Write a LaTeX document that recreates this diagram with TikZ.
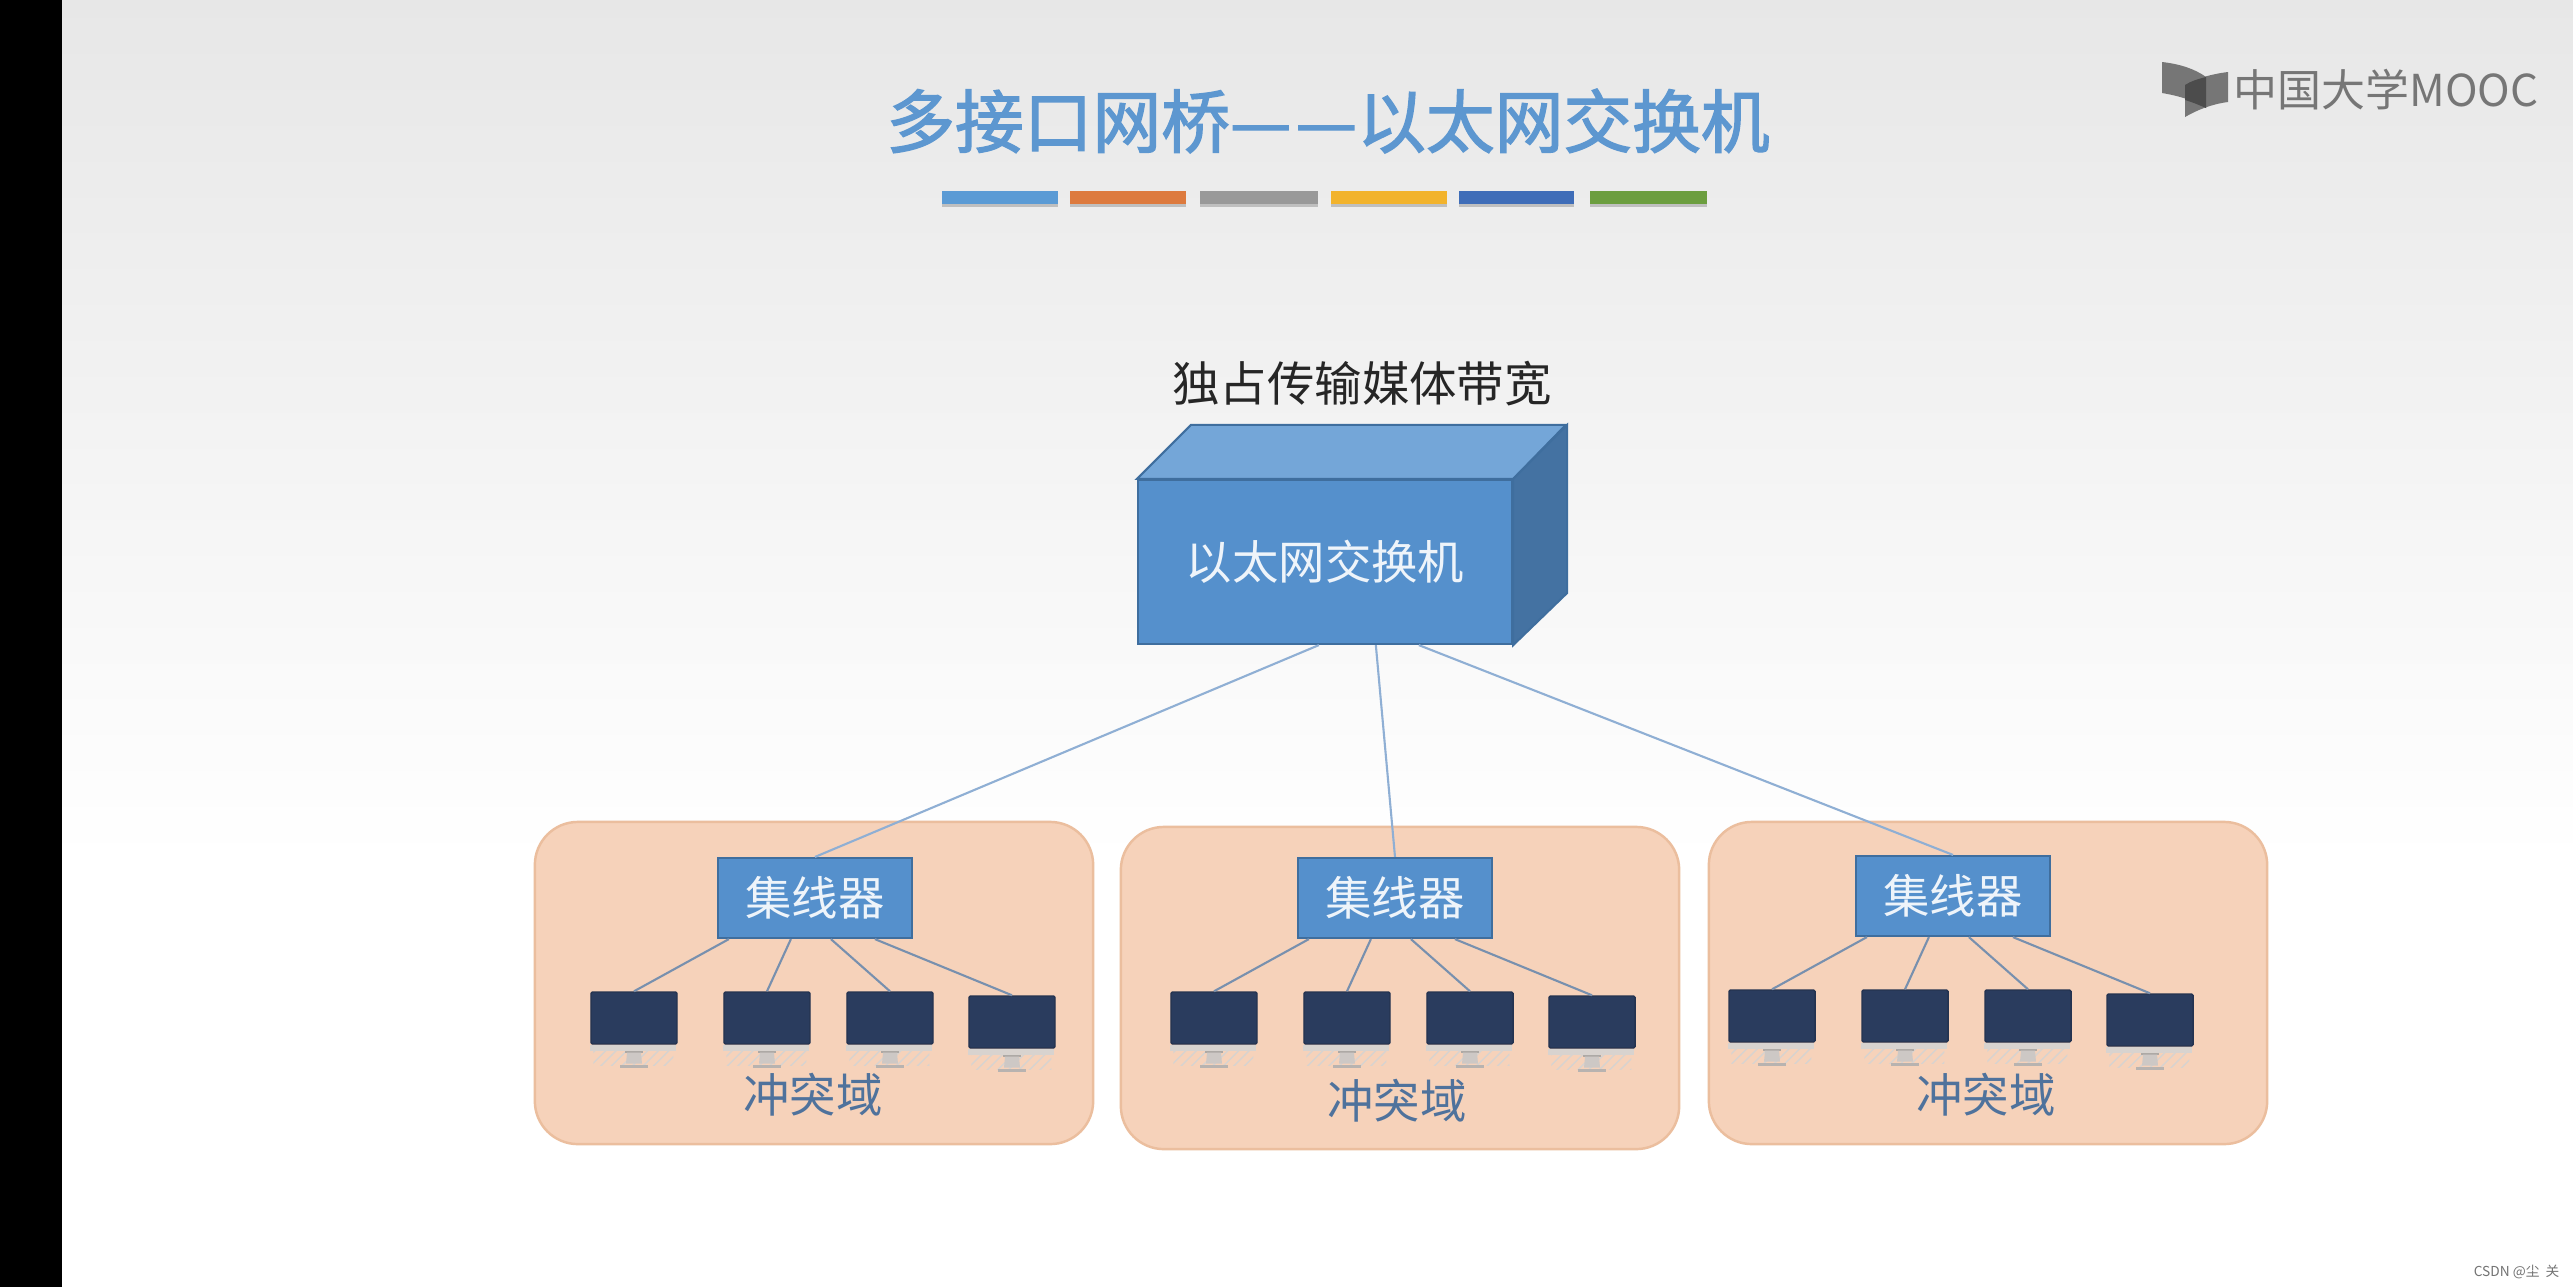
\documentclass[tikz,border=0pt]{standalone}
\usepackage{xcolor}
\usepackage{fontspec}
\usepackage{tikz}
\usetikzlibrary{positioning,patterns}
\newfontfamily\cjk{Noto Sans CJK SC}
\newfontfamily\cjktitle[FakeBold=2]{Noto Sans CJK SC}
\definecolor{slidegray}{HTML}{E7E7E7}
\definecolor{slideblue}{HTML}{5D97D0}
\definecolor{swfront}{HTML}{5590CC}
\definecolor{swtop}{HTML}{74A6D8}
\definecolor{swside}{HTML}{4472A2}
\definecolor{swedge}{HTML}{3F6E9E}
\definecolor{linkblue}{HTML}{8FAFD4}
\definecolor{hublink}{HTML}{7890AE}
\definecolor{zonefill}{HTML}{F6D2BA}
\definecolor{zoneedge}{HTML}{EBBE9E}
\definecolor{zonetext}{HTML}{4F729C}
\definecolor{screenblue}{HTML}{2A3C5E}
\definecolor{chingray}{HTML}{D8D3CF}
\definecolor{logogray}{HTML}{767676}
\tikzset{
  zonebox/.style={draw=zoneedge,fill=zonefill,line width=0.7pt,rounded corners=0.43cm,minimum width=5.58cm,minimum height=3.22cm,inner sep=0pt},
  hubbox/.style={draw=swedge,fill=swfront,line width=0.6pt,minimum width=1.94cm,minimum height=0.80cm,inner sep=0pt,text=white!90!swfront,font=\cjk\fontsize{13.2}{15}\selectfont},
  screenbox/.style={draw=screenblue!85!black,fill=screenblue,line width=0.4pt,rounded corners=0.4pt,minimum width=0.86cm,minimum height=0.52cm,inner sep=0pt},
  switchbox/.style={draw=swedge,fill=swfront,line width=0.6pt,minimum width=3.74cm,minimum height=1.64cm,inner sep=0pt,text=white!90!swfront,font=\cjk\fontsize{13.2}{15}\selectfont},
  zonelabel/.style={text=zonetext,inner sep=0pt,font=\cjk\fontsize{13.2}{15}\selectfont},
  linkline/.style={draw=linkblue,line width=0.6pt},
  hubline/.style={draw=hublink,line width=0.6pt}
}
\begin{document}
\begin{tikzpicture}[x=0.01cm,y=-0.01cm]
  \useasboundingbox (0,0) rectangle (2573,1287);
  \fill[white] (0,0) rectangle (2573,1287);
  \fill[top color=slidegray,bottom color=white] (62,0) rectangle (2573,860);
  \fill[black] (0,0) rectangle (62,1287);
  \node[text=slideblue,inner sep=0pt,font=\cjktitle\fontsize{19.55}{23}\selectfont] (title) at (1328,121) {多接口网桥—\kern1.2pt—以太网交换机};
  \foreach \xa/\xb/\barcolor in {942/1058/5B9BD5,1070/1186/DD7A3E,1200/1318/999999,1331/1447/F2B32C,1459/1574/3F6DB8,1590/1707/6C9E3F}{
    \definecolor{barfill}{HTML}{\barcolor}
    \fill[black!25] (\xa,194) rectangle (\xb,207);
    \fill[barfill] (\xa,191) rectangle (\xb,204);
  }
  \fill[logogray] (2162,62) .. controls (2180,64) and (2195,69) .. (2206,77) -- (2206,108) .. controls (2195,101) and (2180,96) .. (2162,93) -- cycle;
  \fill[logogray] (2228,72) -- (2228,102) .. controls (2212,104) and (2197,110) .. (2185,117) -- (2185,85) .. controls (2197,78) and (2212,74) .. (2228,72) -- cycle;
  \fill[black!70] (2185,85) .. controls (2191,81) and (2198,79) .. (2206,77) -- (2206,108) .. controls (2199,105) and (2192,102) .. (2185,100) -- cycle;
  \node[text=logogray,inner sep=0pt,anchor=west,font=\cjk\fontsize{12.5}{15}\selectfont] (logo) at (2233,90) {中国大学MOOC};
  \node[text=black!85,inner sep=0pt,font=\cjk\fontsize{13.5}{16}\selectfont] (bandwidth) at (1362,384) {独占传输媒体带宽};
  \node[switchbox] (switch) at (1325,562) {以太网交换机};
  \draw[draw=swedge,fill=swtop,line width=0.6pt] (switch.north west) -- ++(54,-54) -- ++(375,0) -- (switch.north east) -- cycle;
  \draw[draw=swedge,fill=swside,line width=0.6pt] (switch.north east) -- ++(54,-54) -- ++(0,168) -- (switch.south east) -- cycle;
  \foreach \i/\dx/\dy/\zx/\zy/\lx/\ly in {1/0/0/0/0/0/0,2/580/0/586/5/584/6,3/1138/-2/1174/0/1173/0}{
    \node[zonebox] (zone\i) at (814+\zx,983+\zy) {};
    \node[hubbox] (hub\i) at (815+\dx,898+\dy) {集线器};
    \node[zonelabel] (domain\i) at (813+\lx,1095+\ly) {冲突域};
    \foreach \j/\mx/\my/\sx in {1/634/1018/12,2/767/1018/74,3/890/1018/114,4/1012/1022/158}{
      \node[screenbox] (mon\i\j) at (\mx+\dx,\my+\dy) {};
      \fill[chingray] (mon\i\j.south west) rectangle ++(86,6);
      \fill[pattern=north east lines,pattern color=chingray] (mon\i\j.south west) ++(3,6) rectangle ++(80,15);
      \fill[chingray!80!black] (mon\i\j.south) ++(-9,6) rectangle ++(18,2);
      \fill[chingray!95!black] (mon\i\j.south) ++(-7,8) -- ++(14,0) -- ++(1,11) -- ++(-16,0) -- cycle;
      \fill[chingray!85!black] (mon\i\j.south) ++(-14,20) rectangle ++(28,3);
      \draw[hubline] (hub\i.south west) ++(\sx,0) -- (mon\i\j.north);
    }
  }
  \draw[linkline] (switch.south west) ++(182,0) -- (hub1.north);
  \draw[linkline] (switch.south west) ++(239,0) -- (hub2.north);
  \draw[linkline] (switch.south west) ++(282,0) -- (hub3.north);
  \node[text=black!55,inner sep=0pt,anchor=east,font=\cjk\fontsize{3.9}{4.5}\selectfont] (watermark) at (2560,1272) {CSDN @尘\ \ 关};
\end{tikzpicture}
\end{document}
